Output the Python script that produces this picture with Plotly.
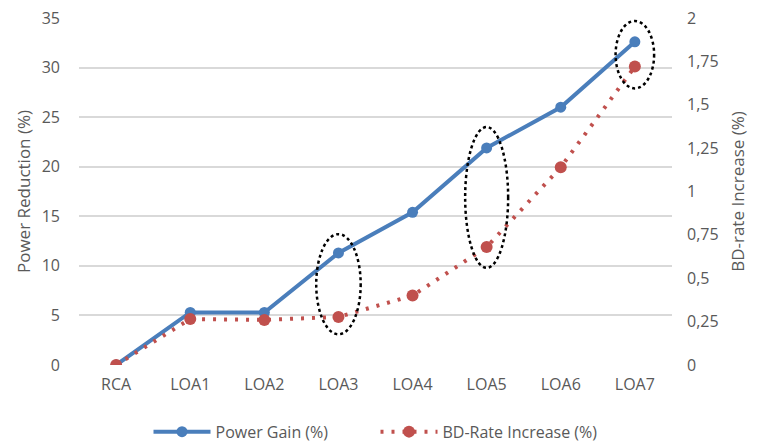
import plotly.graph_objects as go

# Configurations compared against the RCA baseline
categories = ["RCA", "LOA1", "LOA2", "LOA3", "LOA4", "LOA5", "LOA6", "LOA7"]
power_gain = [0, 5.3, 5.3, 11.3, 15.4, 21.9, 26.0, 32.6]
bd_rate_increase = [0, 0.265, 0.26, 0.277, 0.40, 0.68, 1.14, 1.72]

left_ticks = [0, 5, 10, 15, 20, 25, 30, 35]
right_tickvals = [0, 0.25, 0.5, 0.75, 1, 1.25, 1.5, 1.75, 2]
right_ticktext = ["0", "0,25", "0,5", "0,75", "1", "1,25", "1,5", "1,75", "2"]

# Highlighted configurations: (category index, half width, y low, y high) in left-axis units
highlights = [(3, 0.30, 3.1, 13.2), (5, 0.29, 9.8, 24.0), (7, 0.26, 27.9, 34.7)]

BLUE = "#4A7EBB"
RED = "#C0504D"
GREY = "#595959"
FONT = "Open Sans"

fig = go.Figure()
fig.add_trace(go.Scatter(
    x=categories, y=power_gain, name="Power Gain (%)",
    mode="lines+markers",
    line=dict(color=BLUE, width=4),
    marker=dict(color=BLUE, size=11),
))
fig.add_trace(go.Scatter(
    x=categories, y=bd_rate_increase, name="BD-Rate Increase (%)",
    mode="lines+markers", yaxis="y2",
    line=dict(color=RED, width=4, dash="3px,8px"),
    marker=dict(color=RED, size=12),
))

for idx, hw, y0, y1 in highlights:
    fig.add_shape(
        type="circle", xref="x", yref="y",
        x0=idx - hw, x1=idx + hw, y0=y0, y1=y1,
        line=dict(color="black", width=2.5, dash="dot"),
    )

fig.update_layout(
    width=757, height=446,
    margin=dict(l=79, r=85, t=18, b=81, autoexpand=False),
    paper_bgcolor="white", plot_bgcolor="white",
    font=dict(family=FONT, color=GREY, size=16),
    showlegend=True,
    legend=dict(
        orientation="h", x=0.5, xanchor="center",
        yref="container", y=0.032, yanchor="middle",
        font=dict(size=16, color=GREY), itemwidth=57, entrywidth=155,
    ),
    xaxis=dict(
        type="category", showgrid=False, zeroline=False, showline=False,
        automargin=False,
        tickfont=dict(size=16, color=GREY), ticks="", ticklabelstandoff=8,
    ),
    yaxis=dict(
        range=[0, 35], tickvals=left_ticks, automargin=False,
        showgrid=True, gridcolor="#D9D9D9", gridwidth=1.5,
        zeroline=False, showline=False, ticks="",
        tickfont=dict(size=16, color=GREY), ticklabelstandoff=18,
        title=dict(text="Power Reduction (%)", font=dict(size=17, color=GREY), standoff=6),
    ),
    yaxis2=dict(
        range=[0, 2], overlaying="y", side="right", automargin=False,
        tickvals=right_tickvals, ticktext=right_ticktext,
        showgrid=False, zeroline=False, showline=False, ticks="",
        tickfont=dict(size=16, color=GREY), ticklabelstandoff=14,
        title=dict(text="BD-rate Increase (%)", font=dict(size=17, color=GREY), standoff=14),
    ),
)

fig.write_html("out.html")
